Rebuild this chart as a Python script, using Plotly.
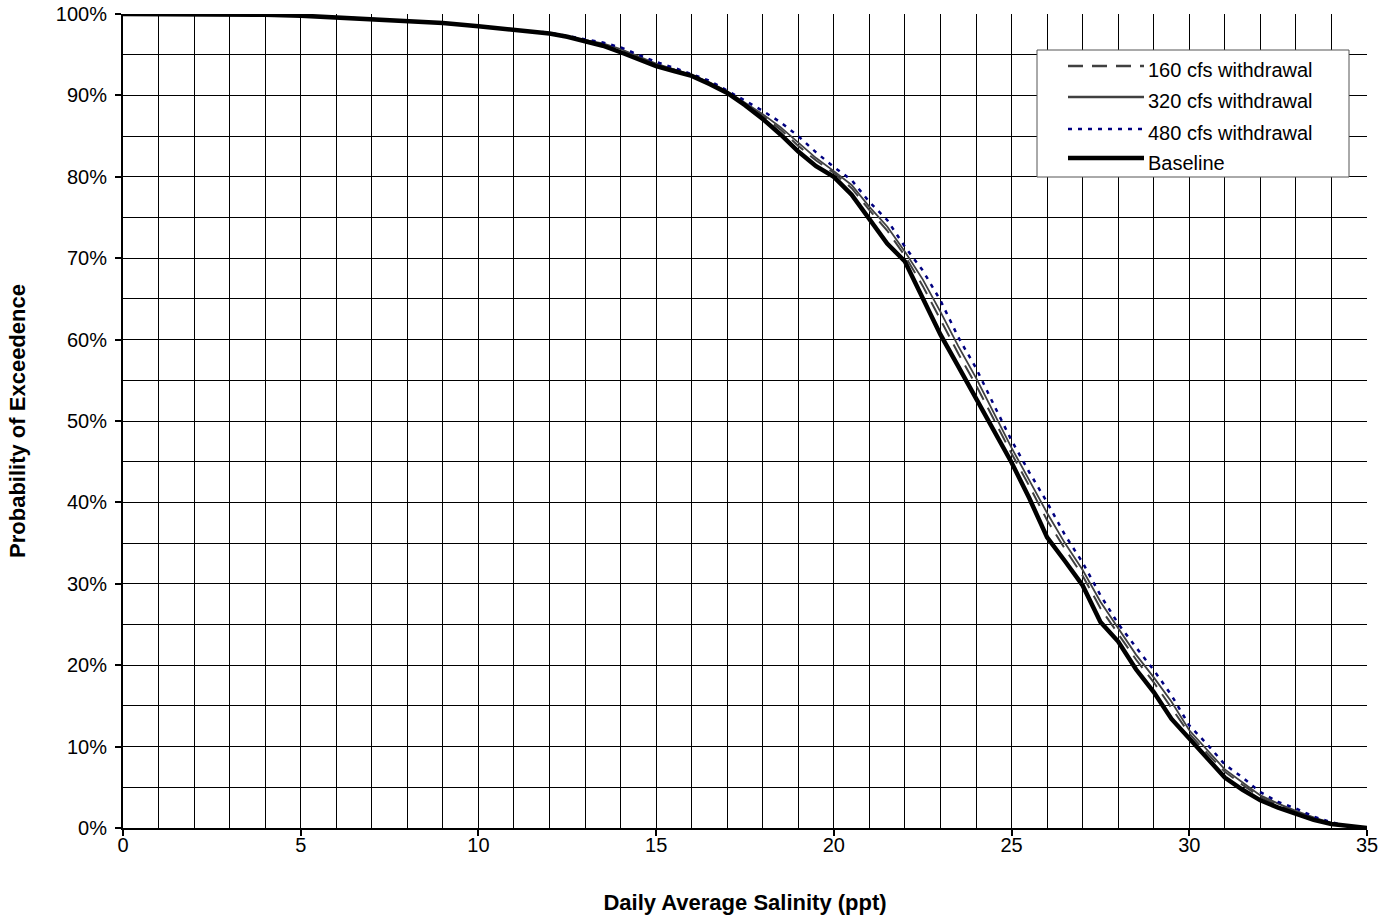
import plotly.graph_objects as go

# Daily average salinity (ppt) at which each exceedance probability is read
salinity = [0, 1, 2, 3, 4, 5, 6, 7, 8, 9, 10, 11, 12,
            12.5, 13, 13.5, 14, 14.5, 15, 15.5, 16, 16.5, 17, 17.5, 18,
            18.5, 19, 19.5, 20, 20.5, 21, 21.5, 22, 22.5, 23, 23.5, 24,
            24.5, 25, 25.5, 26, 26.5, 27, 27.5, 28, 28.5, 29, 29.5, 30,
            30.5, 31, 31.5, 32, 32.5, 33, 33.5, 34, 34.5, 35]

# Probability of exceedance (%) for each scenario
baseline = [100, 100, 100, 100, 99.9, 99.8, 99.6, 99.4, 99.1, 98.9, 98.5, 98.1, 97.6,
            97.2, 96.7, 96.1, 95.3, 94.4, 93.6, 93.0, 92.4, 91.4, 90.3, 88.8, 87.1,
            85.2, 83.1, 81.3, 80.0, 77.8, 74.9, 71.8, 69.6, 65.0, 60.6, 56.7, 52.7,
            48.8, 44.9, 40.5, 35.7, 32.8, 29.8, 25.3, 22.9, 19.5, 16.7, 13.4, 11.0,
            8.4, 6.2, 4.7, 3.4, 2.5, 1.7, 1.0, 0.5, 0.2, 0]

w160 = [100, 100, 100, 100, 99.9, 99.8, 99.6, 99.4, 99.1, 98.9, 98.5, 98.1, 97.6,
        97.2, 96.8, 96.3, 95.6, 94.7, 93.8, 93.2, 92.5, 91.5, 90.4, 89.0, 87.5,
        85.8, 83.8, 82.0, 80.5, 78.6, 75.9, 73.4, 70.3, 66.6, 62.5, 58.3, 54.4,
        50.2, 46.0, 42.0, 37.8, 34.3, 31.0, 27.0, 23.9, 20.7, 17.9, 14.8, 11.6,
        9.2, 6.9, 5.3, 3.8, 2.8, 2.0, 1.2, 0.6, 0.2, 0]

w320 = [100, 100, 100, 100, 99.9, 99.8, 99.6, 99.4, 99.1, 98.9, 98.5, 98.1, 97.6,
        97.2, 96.8, 96.4, 95.7, 94.8, 93.9, 93.2, 92.5, 91.6, 90.5, 89.1, 87.7,
        86.1, 84.2, 82.3, 80.7, 79.0, 76.3, 73.9, 70.8, 67.4, 63.4, 59.2, 55.3,
        51.0, 46.7, 42.7, 38.7, 35.0, 31.7, 27.8, 24.5, 21.3, 18.5, 15.5, 12.0,
        9.6, 7.2, 5.6, 4.0, 3.0, 2.1, 1.3, 0.6, 0.2, 0]

w480 = [100, 100, 100, 100, 99.9, 99.8, 99.6, 99.4, 99.1, 98.9, 98.5, 98.1, 97.7,
        97.3, 96.9, 96.5, 95.9, 95.0, 94.1, 93.4, 92.6, 91.8, 90.6, 89.4, 88.1,
        86.7, 85.0, 83.0, 81.2, 79.6, 76.9, 74.7, 71.4, 68.5, 64.8, 60.3, 56.5,
        52.0, 47.6, 43.7, 40.0, 36.0, 32.6, 28.6, 25.1, 22.2, 19.4, 16.3, 12.6,
        10.3, 7.8, 6.2, 4.4, 3.2, 2.4, 1.4, 0.7, 0.2, 0]

series_names = ["160 cfs withdrawal", "320 cfs withdrawal",
                "480 cfs withdrawal", "Baseline"]

x_ticks = [0, 5, 10, 15, 20, 25, 30, 35]
y_ticks = [0, 10, 20, 30, 40, 50, 60, 70, 80, 90, 100]
y_tick_text = [f"{v}%" for v in y_ticks]

FONT = "Liberation Sans, Arial, sans-serif"

# Figure and plot-area geometry (pixels)
W, H = 1382, 922
ML, MR, MT, MB = 123, 15, 14, 94
PW, PH = W - ML - MR, H - MT - MB


def fx(px):
    """Pixel column -> paper x."""
    return (px - ML) / PW


def fy(py):
    """Pixel row -> paper y."""
    return (H - MB - py) / PH


line_styles = [
    dict(color="#404040", width=2, dash="15px,9px"),
    dict(color="#404040", width=1.8),
    dict(color="#000080", width=2.5, dash="4px,6px"),
    dict(color="#000000", width=4.5),
]
series_values = [w160, w320, w480, baseline]

fig = go.Figure()
for name, vals, line in zip(series_names, series_values, line_styles):
    fig.add_trace(go.Scatter(x=salinity, y=vals, mode="lines", name=name,
                             line=line, showlegend=False))

# Boxed key in the upper right of the plot area
shapes = [dict(type="rect", xref="paper", yref="paper",
               x0=fx(1037), x1=fx(1349), y0=fy(177), y1=fy(50),
               fillcolor="white", line=dict(color="#555555", width=1),
               layer="above")]
annotations = []
row_line_y = [66, 97, 129, 158]
row_text_y = [70, 101, 133, 163]
for name, line, ly, ty in zip(series_names, line_styles, row_line_y, row_text_y):
    key_line = dict(line)
    key_line["width"] = max(line["width"], 2.4)
    shapes.append(dict(type="line", xref="paper", yref="paper",
                       x0=fx(1068), x1=fx(1144), y0=fy(ly), y1=fy(ly),
                       line=key_line, layer="above"))
    annotations.append(dict(xref="paper", yref="paper", x=fx(1146), y=fy(ty),
                            xanchor="left", yanchor="middle", showarrow=False,
                            text=name, font=dict(family=FONT, size=20,
                                                 color="black")))

fig.update_layout(
    width=W, height=H,
    margin=dict(l=ML, r=MR, t=MT, b=MB, autoexpand=False),
    paper_bgcolor="white", plot_bgcolor="white",
    font=dict(family=FONT, size=20, color="black"),
    showlegend=False,
    shapes=shapes, annotations=annotations,
)

fig.update_xaxes(
    range=[0, 35], tickvals=x_ticks, ticks="outside", ticklen=6, tickwidth=2,
    tickcolor="black", showline=True, linecolor="black", linewidth=2,
    showgrid=True, gridcolor="#000000", gridwidth=1, zeroline=False,
    minor=dict(dtick=1, showgrid=True, gridcolor="#000000", gridwidth=1),
    tickfont=dict(family=FONT, size=20), automargin=False,
    ticklabelstandoff=-8,
    title=dict(text="<b>Daily Average Salinity (ppt)</b>", standoff=40,
               font=dict(family=FONT, size=22)),
)
fig.update_yaxes(
    range=[0, 100], tickvals=y_ticks, ticktext=y_tick_text, ticks="outside",
    ticklen=6, tickwidth=2, tickcolor="black", showline=True,
    linecolor="black", linewidth=2, showgrid=True, gridcolor="#000000",
    gridwidth=1, zeroline=False,
    minor=dict(dtick=5, showgrid=True, gridcolor="#000000", gridwidth=1),
    tickfont=dict(family=FONT, size=20), automargin=False,
    ticklabelstandoff=4,
    title=dict(text="<b>Probability of Exceedence</b>", standoff=24,
               font=dict(family=FONT, size=22)),
)

fig.write_html("out.html")
